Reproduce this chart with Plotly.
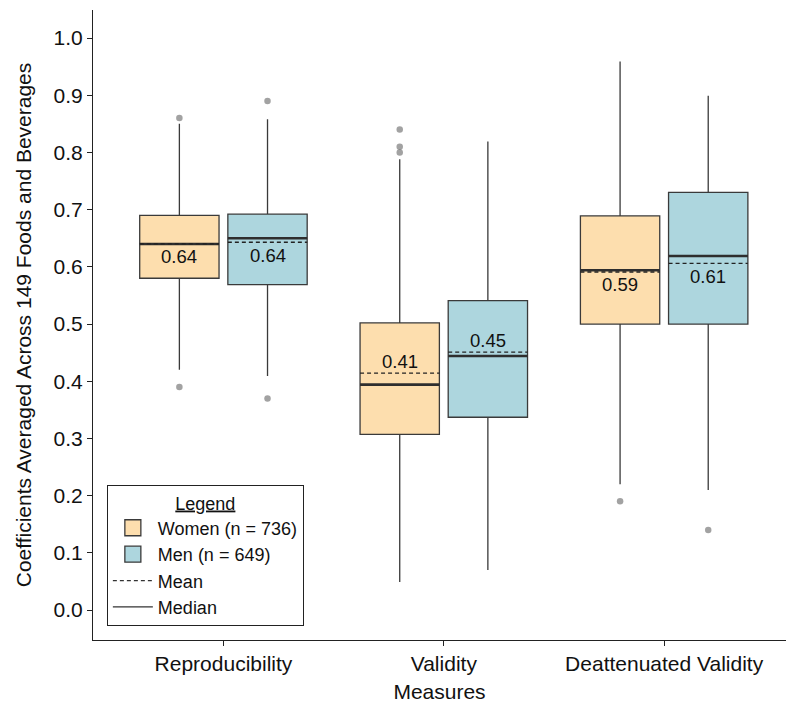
import plotly.graph_objects as go

# ---------------- data ----------------
measures = ["Reproducibility", "Validity", "Deattenuated Validity"]

women_label = "Women (n = 736)"
women_q1 = [0.580, 0.307, 0.500]
women_median = [0.640, 0.394, 0.594]
women_q3 = [0.690, 0.502, 0.689]
women_mean = [0.640, 0.414, 0.591]
women_lower = [0.420, 0.049, 0.220]
women_upper = [0.850, 0.788, 0.959]
women_outliers = [[0.39, 0.86], [0.80, 0.81, 0.84], [0.19]]

men_label = "Men (n = 649)"
men_q1 = [0.569, 0.337, 0.500]
men_median = [0.650, 0.444, 0.619]
men_q3 = [0.692, 0.541, 0.730]
men_mean = [0.643, 0.451, 0.606]
men_lower = [0.409, 0.070, 0.210]
men_upper = [0.858, 0.819, 0.899]
men_outliers = [[0.37, 0.89], [], [0.14]]

y_ticks = [0.0, 0.1, 0.2, 0.3, 0.4, 0.5, 0.6, 0.7, 0.8, 0.9, 1.0]

# ---------------- style ----------------
FONT = "Liberation Sans, Arial, Helvetica, sans-serif"
WOMEN_FILL = "#FDDEAE"
MEN_FILL = "#ADD6DE"
EDGE = "#3a3a3a"
DODGE = 0.2
BOX_W = 0.36
label_above = {"Women": [False, True, False], "Men": [False, True, False]}

fig = go.Figure()
groups = [
    ("Women", women_label, WOMEN_FILL, -DODGE, women_q1, women_median, women_q3,
     women_mean, women_lower, women_upper, women_outliers),
    ("Men", men_label, MEN_FILL, DODGE, men_q1, men_median, men_q3,
     men_mean, men_lower, men_upper, men_outliers),
]

for key, lab, fill, off, q1, med, q3, mean, lo, hi, outl in groups:
    xs = [i + 1 + off for i in range(len(measures))]
    fig.add_trace(go.Box(
        x=xs, q1=q1, median=med, q3=q3,
        lowerfence=lo, upperfence=hi,
        width=BOX_W, whiskerwidth=0, boxpoints=False,
        fillcolor=fill, line=dict(color=EDGE, width=1.3),
        showlegend=False, hoverinfo="skip",
    ))
    ox, oy = [], []
    for x, pts in zip(xs, outl):
        ox += [x] * len(pts)
        oy += pts
    fig.add_trace(go.Scatter(
        x=ox, y=oy, mode="markers", showlegend=False,
        marker=dict(color="rgba(100,100,100,0.6)", size=6.5),
        hoverinfo="skip",
    ))
    # thicker median line
    for x, m in zip(xs, med):
        fig.add_shape(type="line", xref="x", yref="y",
                      x0=x - BOX_W / 2, x1=x + BOX_W / 2, y0=m, y1=m,
                      line=dict(color="#2e2e2e", width=2.6))
    # dashed mean line
    for x, m in zip(xs, mean):
        fig.add_shape(type="line", xref="x", yref="y",
                      x0=x - BOX_W / 2, x1=x + BOX_W / 2, y0=m, y1=m,
                      line=dict(color="#222", width=1.3, dash="4px,3px"))
    # mean labels
    for x, m, up in zip(xs, mean, label_above[key]):
        fig.add_annotation(x=x, y=m, text=f"{m:.2f}", showarrow=False,
                           xref="x", yref="y", yshift=12 if up else -13,
                           font=dict(family=FONT, size=18.5, color="#111"))

# legend entries
fig.add_trace(go.Scatter(x=[None], y=[None], mode="markers", name=women_label,
                         marker=dict(symbol="square", size=22, color=WOMEN_FILL,
                                     line=dict(color=EDGE, width=1.3))))
fig.add_trace(go.Scatter(x=[None], y=[None], mode="markers", name=men_label,
                         marker=dict(symbol="square", size=22, color=MEN_FILL,
                                     line=dict(color=EDGE, width=1.3))))
fig.add_trace(go.Scatter(x=[None], y=[None], mode="lines", name="Mean",
                         line=dict(color="#333", width=1.3, dash="4px,3px")))
fig.add_trace(go.Scatter(x=[None], y=[None], mode="lines", name="Median",
                         line=dict(color="#333", width=1.3)))

fig.update_layout(
    width=786, height=705,
    margin=dict(l=93, r=0, t=10, b=65),
    paper_bgcolor="white", plot_bgcolor="white",
    font=dict(family=FONT, size=20, color="#111"),
    boxmode="overlay",
    showlegend=True,
    legend=dict(
        x=0.02, y=0.022, xanchor="left", yanchor="bottom",
        bgcolor="white", bordercolor="#222", borderwidth=1,
        font=dict(family=FONT, size=18, color="#111"),
        title=dict(text="<u>Legend</u>", side="top center",
                   font=dict(family=FONT, size=18, color="#111")),
        itemsizing="trace", tracegroupgap=0, itemwidth=40,
    ),
    xaxis=dict(
        range=[0.408, 3.553], tickvals=[1, 2, 3], ticktext=measures,
        showline=True, linecolor="#222", linewidth=1.2,
        ticks="outside", ticklen=5, tickcolor="#222",
        showgrid=False, zeroline=False,
        tickfont=dict(size=21),
        title=dict(text="Measures", font=dict(size=21), standoff=10),
    ),
    yaxis=dict(
        range=[-0.0524, 1.049], tickvals=y_ticks,
        ticktext=[f"{v:.1f}" for v in y_ticks],
        showline=True, linecolor="#222", linewidth=1.2,
        ticks="outside", ticklen=5, tickcolor="#222",
        showgrid=False, zeroline=False,
        tickfont=dict(size=21),
        title=dict(text="Coefficients Averaged Across 149 Foods and Beverages",
                   font=dict(size=21), standoff=16),
    ),
)

fig.write_html("out.html", config={"displayModeBar": False},
               post_script="document.body.style.margin='0';document.body.style.padding='0';")
